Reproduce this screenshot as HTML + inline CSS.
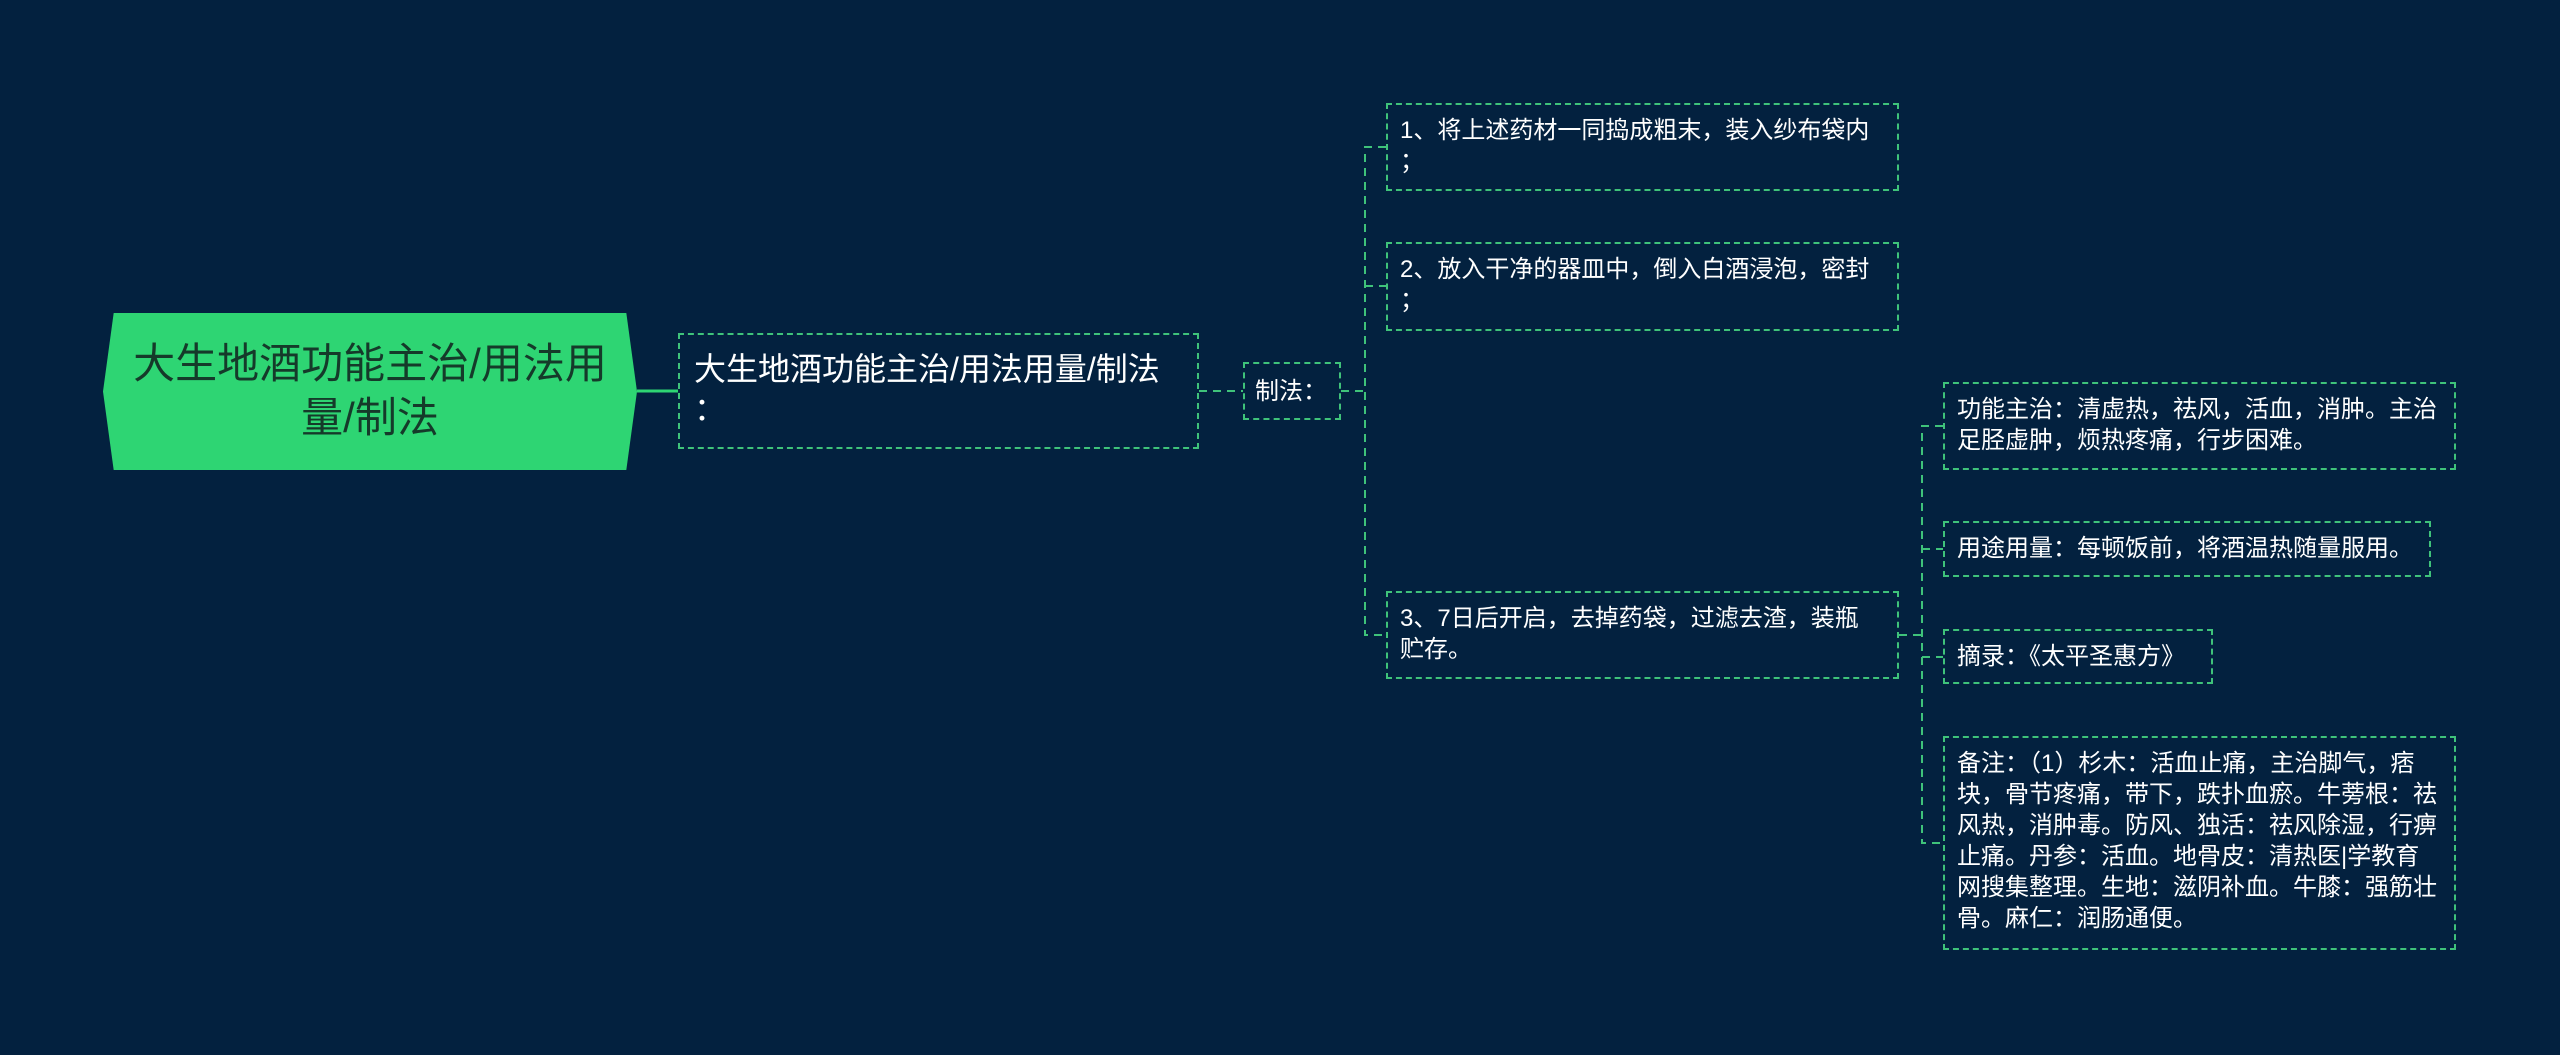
<!DOCTYPE html>
<html><head><meta charset="utf-8"><style>
html,body{margin:0;padding:0;}
body{width:2560px;height:1055px;background:#03213f;position:relative;overflow:hidden;font-family:"Liberation Sans","Noto Sans CJK SC",sans-serif;}
.b{position:absolute;box-sizing:border-box;border:2px dashed #3fc27a;color:#fff;font-size:24px;line-height:31px;padding:10px 0 0 12px;white-space:nowrap;}
.root{position:absolute;left:103px;top:313px;width:534px;height:157px;background:#2ed573;clip-path:polygon(2% 0,98% 0,100% 50%,98% 100%,2% 100%,0 50%);color:#153a2a;font-size:42px;line-height:54px;text-align:center;padding-top:24px;box-sizing:border-box;white-space:nowrap;}
svg{position:absolute;left:0;top:0;}
</style></head><body>
<svg width="2560" height="1055">
<line x1="637" y1="391" x2="678" y2="391" stroke="#2ed573" stroke-width="3"/>
<g stroke="#3fc27a" stroke-width="2" stroke-dasharray="8,6" fill="none">
<line x1="1199" y1="391" x2="1243" y2="391"/>
<line x1="1341" y1="391" x2="1365" y2="391"/>
<path d="M1386 147 H1365 V635 H1386"/>
<line x1="1365" y1="286" x2="1386" y2="286"/>
<line x1="1899" y1="635" x2="1922" y2="635"/>
<path d="M1943 426 H1922 V843 H1943"/>
<line x1="1922" y1="549" x2="1943" y2="549"/>
<line x1="1922" y1="657" x2="1943" y2="657"/>
</g>
</svg>
<div class="root">大生地酒功能主治/用法用<br>量/制法</div>
<div class="b" style="left:678px;top:333px;width:521px;height:116px;font-size:32px;line-height:40px;padding:14px 0 0 14px;">大生地酒功能主治/用法用量/制法<br>：</div>
<div class="b" style="left:1243px;top:362px;width:98px;height:58px;padding:12px 0 0 10px;">制法：</div>
<div class="b" style="left:1386px;top:103px;width:513px;height:88px;">1、将上述药材一同捣成粗末，装入纱布袋内<br>；</div>
<div class="b" style="left:1386px;top:242px;width:513px;height:89px;">2、放入干净的器皿中，倒入白酒浸泡，密封<br>；</div>
<div class="b" style="left:1386px;top:591px;width:513px;height:88px;">3、7日后开启，去掉药袋，过滤去渣，装瓶<br>贮存。</div>
<div class="b" style="left:1943px;top:382px;width:513px;height:88px;">功能主治：清虚热，祛风，活血，消肿。主治<br>足胫虚肿，烦热疼痛，行步困难。</div>
<div class="b" style="left:1943px;top:521px;width:488px;height:56px;padding-top:10px;">用途用量：每顿饭前，将酒温热随量服用。</div>
<div class="b" style="left:1943px;top:629px;width:270px;height:55px;padding-top:10px;">摘录：《太平圣惠方》</div>
<div class="b" style="left:1943px;top:736px;width:513px;height:214px;">备注：（1）杉木：活血止痛，主治脚气，痞<br>块，骨节疼痛，带下，跌扑血瘀。牛蒡根：祛<br>风热，消肿毒。防风、独活：祛风除湿，行痹<br>止痛。丹参：活血。地骨皮：清热医|学教育<br>网搜集整理。生地：滋阴补血。牛膝：强筋壮<br>骨。麻仁：润肠通便。</div>
</body></html>
